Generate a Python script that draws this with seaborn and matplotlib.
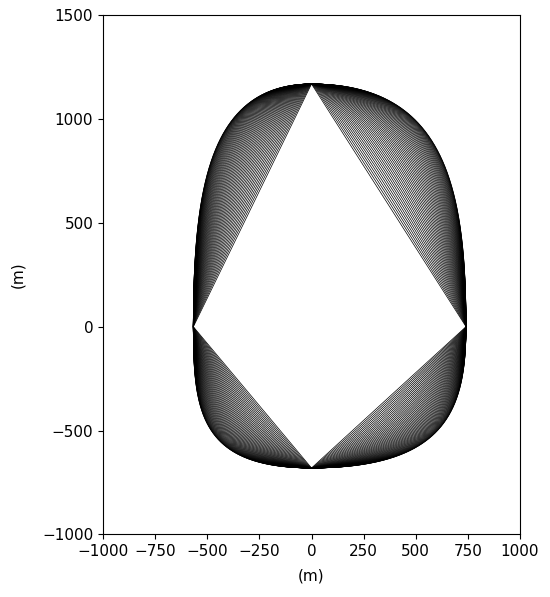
import numpy as np
import pandas as pd
import matplotlib
matplotlib.use("Agg")
import matplotlib.pyplot as plt
import seaborn as sns

# Vertices of the inner diamond, shared by every curve (m)
x_right = 741.0
x_left = -567.0
y_top = 1168.0
y_bottom = -680.0

# Outer-curve bulge of each quadrant (cubic Bezier control fractions):
# k_side = along the side (vertical) tangent, k_end = along the top/bottom tangent
quadrants = ["UR", "UL", "LL", "LR"]
k_side = [0.58, 0.58, 0.60, 0.58]
k_end = [0.86, 0.86, 0.95, 0.88]

# Family of curves: bulge fraction from 0 (straight diamond) to 1 (outer curve)
n_curves = 55
spacing_power = 1.5

x_ticks = [-1000, -750, -500, -250, 0, 250, 500, 750, 1000]
y_ticks = [-1000, -500, 0, 500, 1000, 1500]

levels = 1.0 - (1.0 - np.linspace(0.0, 1.0, n_curves)) ** spacing_power
t = np.linspace(0.0, 1.0, 300)

def quadrant_curve(xs, yt, ks, ke):
    p0 = np.array([xs, 0.0])
    p1 = np.array([xs, ks * yt])
    p2 = np.array([ke * xs, yt])
    p3 = np.array([0.0, yt])
    b0 = (1 - t) ** 3
    b1 = 3 * (1 - t) ** 2 * t
    b2 = 3 * (1 - t) * t ** 2
    b3 = t ** 3
    return np.outer(b0, p0) + np.outer(b1, p1) + np.outer(b2, p2) + np.outer(b3, p3)

corners = {"UR": (x_right, y_top), "UL": (x_left, y_top),
           "LL": (x_left, y_bottom), "LR": (x_right, y_bottom)}

rows = []
for k, s in enumerate(levels):
    parts = []
    for q, ks, ke in zip(quadrants, k_side, k_end):
        xs, yt = corners[q]
        pts = quadrant_curve(xs, yt, ks * s, ke * s)
        if q in ("UL", "LR"):
            pts = pts[::-1]
        parts.append(pts)
    pts = np.vstack(parts)
    rows.append(pd.DataFrame({"x": pts[:, 0], "y": pts[:, 1], "curve": k}))
df = pd.concat(rows, ignore_index=True)

fig = plt.figure(figsize=(5.5, 5.97), dpi=100)
ax = fig.add_axes([0.1873, 0.1047, 0.7582, 0.8702])
sns.lineplot(data=df, x="x", y="y", units="curve", estimator=None, sort=False,
             color="black", linewidth=0.5, ax=ax)
ax.set_xlim(-1000, 1000)
ax.set_ylim(-1000, 1500)
ax.set_xticks(x_ticks)
ax.set_yticks(y_ticks)
ax.tick_params(labelsize=11)
ax.set_xlabel("(m)", fontsize=11, labelpad=7)
ax.set_ylabel("(m)", fontsize=11, labelpad=12)
fig.savefig("out.png", dpi=100)
